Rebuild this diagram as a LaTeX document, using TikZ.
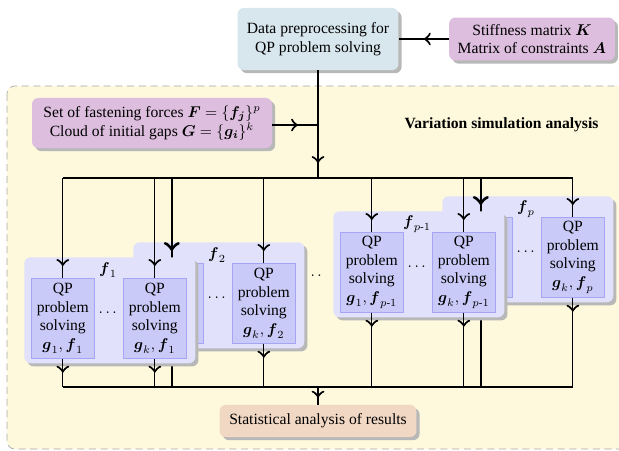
\documentclass[tikz,border=0pt]{standalone}
\usepackage{amsmath}
\usepackage{fontspec}
\setmainfont{Liberation Serif}
\usetikzlibrary{shadows,decorations.markings}
\definecolor{prepblue}{RGB}{216,230,238}
\definecolor{inpink}{RGB}{221,190,222}
\definecolor{statpeach}{RGB}{241,216,196}
\definecolor{bgyellow}{RGB}{254,248,220}
\definecolor{grouplav}{RGB}{225,225,251}
\definecolor{qpfill}{RGB}{202,202,249}
\definecolor{qpdraw}{RGB}{165,165,243}
\tikzset{
  shadowed/.style={drop shadow={shadow xshift=2pt,shadow yshift=-2pt,fill=black!28,opacity=1}},
  roundbox/.style={rounded corners=4pt,shadowed,align=center,inner sep=2pt},
  fgroup/.style={roundbox,fill=grouplav,minimum width=109.4pt,minimum height=67.8pt,anchor=north west},
  qpbox/.style={fill=qpfill,draw=qpdraw,minimum width=40.3pt,minimum height=51.2pt,anchor=north west,align=center,inner sep=1pt},
  conn/.style={line width=0.8pt},
  tipat/.style={conn,postaction={decorate},decoration={markings,mark=at position #1 with {\arrow[scale=1.7]{>}}}},
}
\begin{document}
\begin{tikzpicture}[x=0.64pt,y=-0.64pt]
\useasboundingbox (0,0) rectangle (619,451);
% analysis region
\draw[fill=bgyellow,draw=black!35,dash pattern=on 4.5pt off 3pt,rounded corners=5pt] (7,86) rectangle (660,449);
\node[anchor=east,font=\bfseries] (title) at (604,125) {Variation simulation analysis};
% top boxes
\node[roundbox,fill=prepblue,minimum width=103pt,minimum height=39.7pt] (prep) at (318,39) {Data preprocessing for\\QP problem solving};
\node[roundbox,fill=inpink,minimum width=106pt,minimum height=27.5pt] (mats) at (532,39) {Stiffness matrix $\boldsymbol{K}$\\Matrix of constraints $\boldsymbol{A}$};
\node[roundbox,fill=inpink,minimum width=153.6pt,minimum height=32pt] (inputs) at (152,123) {Set of fastening forces $\boldsymbol{F}=\{\boldsymbol{f_j}\}^p$\\Cloud of initial gaps $\boldsymbol{G}=\{\boldsymbol{g_i}\}^k$};
\node[roundbox,fill=statpeach,minimum width=126pt,minimum height=20.5pt] (stats) at (318,421) {Statistical analysis of results};
\coordinate (join) at (318,125);
\coordinate (bus) at (318,178);
\coordinate (collect) at (318,387);
\draw[tipat=0.5] (mats) -- (prep);
\draw[tipat=-9.6pt] (prep) -- (bus);
\draw[tipat=-12.8pt] (inputs.east |- join) -- (join);
\node (between) at (314,276) {$\dots$};
% groups, back to front
\foreach \gx/\gy/\lab/\n/\w in {442/196/p/fp/1.2pt, 333/211/{p\text{-}1}/fq/0.8pt, 133/242/2/fb/1.2pt, 24/257/1/fa/0.8pt}{
  \node[fgroup] (\n) at (\gx,\gy) {};
  \node (\n-lab) at (\gx+84,\gy+13) {$\boldsymbol{f}_{\lab}$};
  \node[qpbox] (\n-a) at (\gx+7,\gy+21) {QP\\problem\\solving\\$\boldsymbol{g}_1, \boldsymbol{f}_{\lab}$};
  \node[qpbox] (\n-b) at (\gx+99,\gy+21) {QP\\problem\\solving\\$\boldsymbol{g}_k, \boldsymbol{f}_{\lab}$};
  \node (\n-dots) at (\gx+85,\gy+56) {$\dots$};
  \draw[tipat=-7.7pt,line width=\w] (bus -| \n-a) -- (\n-a);
  \draw[tipat=-7.7pt] (bus -| \n-b) -- (\n-b);
  \draw[tipat=9pt,line width=\w] (\n-a) -- (collect -| \n-a);
  \draw[tipat=9pt] (\n-b) -- (collect -| \n-b);
}
\draw[conn] (bus -| fa-a) -- (bus -| fp-b);
\draw[conn] (collect -| fa-a) -- (collect -| fp-b);
\draw[tipat=-4.5pt] (collect) -- (stats);
\end{tikzpicture}
\end{document}
